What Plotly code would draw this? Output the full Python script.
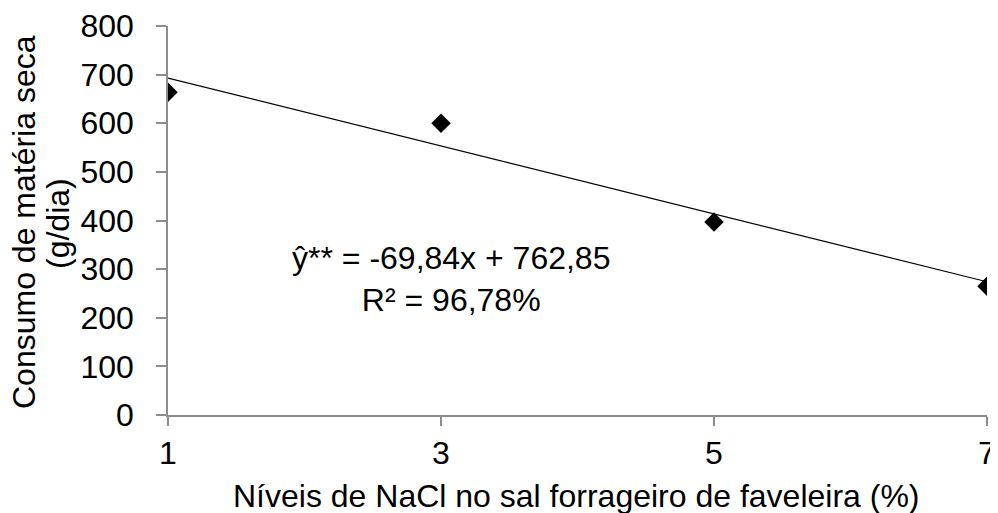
import plotly.graph_objects as go

# Data
nacl_levels = [1, 3, 5, 7]
consumo = [664, 600, 397, 265]

# Regression printed on the chart: y = -69.84x + 762.85
slope = -69.84
intercept = 762.85
trend_x = [1, 7]
trend_y = [slope * x + intercept for x in trend_x]

x_ticks = [1, 3, 5, 7]
y_ticks = [0, 100, 200, 300, 400, 500, 600, 700, 800]

FONT = "Liberation Sans, Arial, sans-serif"
FS = 32

# The page body has an 8px margin; size the figure so it fits the window
OFF = 8
W, H = 998 - OFF, 513 - OFF
L, R, T, B = 168 - OFF, 11, 26 - OFF, 98

fig = go.Figure()
fig.add_trace(go.Scatter(
    x=trend_x, y=trend_y, mode="lines",
    line=dict(color="black", width=1.2), showlegend=False, hoverinfo="skip"))
fig.add_trace(go.Scatter(
    x=nacl_levels, y=consumo, mode="markers",
    marker=dict(symbol="diamond", size=15, color="black"), showlegend=False))

fig.add_annotation(
    x=3.07, y=280, xref="x", yref="y",
    xanchor="center", yanchor="middle",
    text="ŷ** = -69,84x + 762,85<br>R² = 96,78%",
    showarrow=False, align="center",
    font=dict(family=FONT, size=FS, color="black"))

# Axis titles, positioned in window pixels then converted to paper coords
titles = [
    ("Consumo de matéria seca", 24, 222, -90),
    ("(g/dia)", 58, 224, -90),
    ("Níveis de NaCl no sal forrageiro de faveleira (%)", 576, 496, 0),
]
pw, ph = W - L - R, H - T - B
for text, px, py, ang in titles:
    fx, fy = px - OFF, py - OFF
    fig.add_annotation(
        x=(fx - L) / pw, y=(H - B - fy) / ph, xref="paper", yref="paper",
        xanchor="center", yanchor="middle", showarrow=False,
        text=text, textangle=ang,
        font=dict(family=FONT, size=FS, color="black"))

fig.update_xaxes(
    range=[1, 7], tickvals=x_ticks, ticktext=[str(v) for v in x_ticks],
    showgrid=False, zeroline=False, showline=True, linecolor="#8c8c8c", linewidth=1.5,
    ticks="outside", ticklen=9, tickcolor="#8c8c8c", tickwidth=1.5,
    ticklabelstandoff=0, automargin=False, ticklabeloverflow="allow",
    tickfont=dict(family=FONT, size=FS, color="black"))
fig.update_yaxes(
    range=[0, 800], tickvals=y_ticks,
    showgrid=False, zeroline=False, showline=True, linecolor="#8c8c8c", linewidth=1.5,
    ticks="outside", ticklen=10, tickcolor="#8c8c8c", tickwidth=1.5,
    ticklabelstandoff=16, automargin=False,
    tickfont=dict(family=FONT, size=FS, color="black"))

fig.update_layout(
    width=W, height=H,
    margin=dict(l=L, r=R, t=T, b=B),
    plot_bgcolor="white", paper_bgcolor="white",
    font=dict(family=FONT, size=FS, color="black"))

fig.write_html("out.html")
